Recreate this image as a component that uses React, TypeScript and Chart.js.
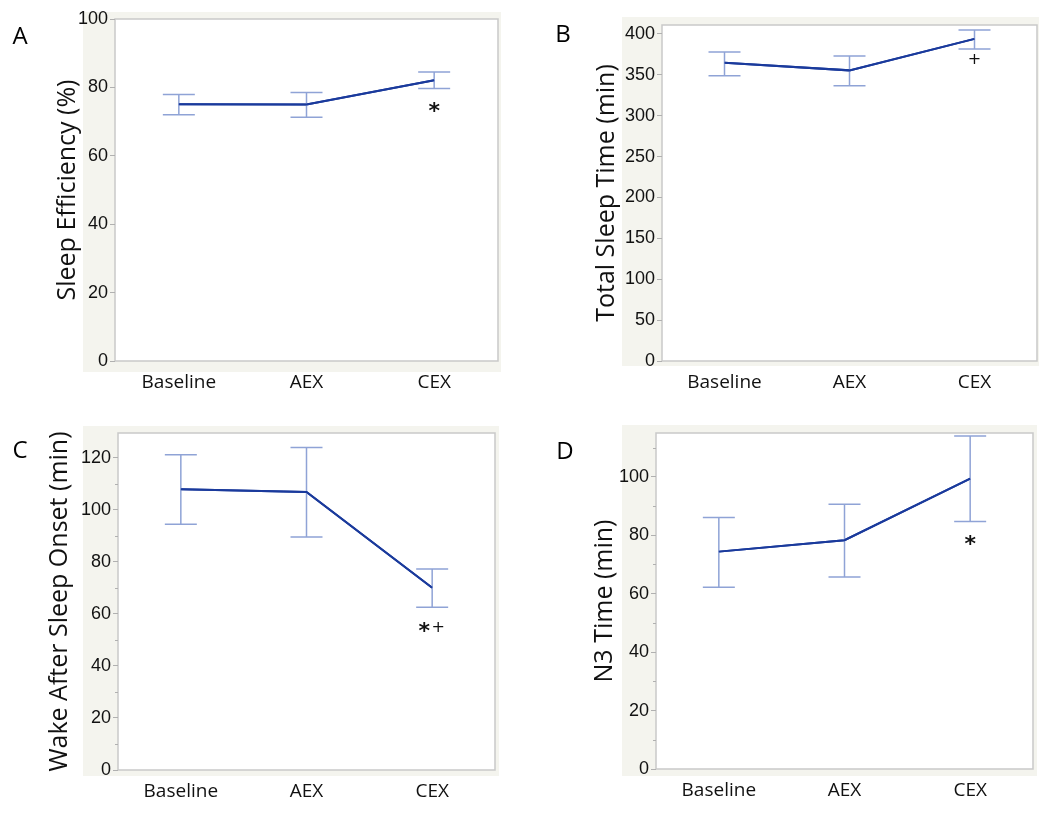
import React, { useEffect, useRef } from "react";
import { Chart, registerables } from "chart.js";

Chart.register(...registerables);

// ---------------- DATA ----------------
const categories = ["Baseline", "AEX", "CEX"];

const sleepEffMean = [75.1, 75.0, 82.1];
const sleepEffUpper = [77.9, 78.5, 84.5];
const sleepEffLower = [72.0, 71.3, 79.7];
const sleepEffMarks = ["", "", "*"];
const sleepEffMarkY = [0, 0, 73.9];

const tstMean = [364.8, 355.5, 394.0];
const tstUpper = [378.0, 373.0, 405.0];
const tstLower = [349.0, 336.6, 381.6];
const tstMarks = ["", "", "+"];
const tstMarkY = [0, 0, 368];

const wasoMean = [108.0, 106.9, 70.1];
const wasoUpper = [121.2, 124.0, 77.3];
const wasoLower = [94.5, 89.6, 62.6];
const wasoMarks = ["", "", "*+"];
const wasoMarkY = [0, 0, 54.6];

const n3Mean = [74.4, 78.3, 99.4];
const n3Upper = [86.1, 90.6, 114.0];
const n3Lower = [62.2, 65.7, 84.7];
const n3Marks = ["", "", "*"];
const n3MarkY = [0, 0, 78.0];

// ---------------- STYLE / LAYOUT ----------------
const LINE_COLOR = "#1a3a9c";
const ERR_COLOR = "#8fa3d6";
const BEIGE = "#f4f4ee";
const FRAME = "#c9c9c9";
const TICK = "#b0b0b0";

type Panel = {
  letter: string;
  title: string;
  mean: number[];
  upper: number[];
  lower: number[];
  marks: string[];
  markY: number[];
  yMax: number;
  step: number;
  minor: number;
  left: number;
  top: number;
  width: number;
  height: number;
  padTop: number;
  padRight: number;
  yAxisW: number;
  xAxisH: number;
  titleX: number;
  beige: [number, number, number, number];
  letterPos: [number, number];
};

const panels: Panel[] = [
  {
    letter: "A", title: "Sleep Efficiency (%)",
    mean: sleepEffMean, upper: sleepEffUpper, lower: sleepEffLower,
    marks: sleepEffMarks, markY: sleepEffMarkY,
    yMax: 100, step: 20, minor: 0,
    left: 0, top: 0, width: 525, height: 405,
    padTop: 19, padRight: 27, yAxisW: 115, xAxisH: 44, titleX: 68,
    beige: [32, 7, 3, 11], letterPos: [20, 37],
  },
  {
    letter: "B", title: "Total Sleep Time (min)",
    mean: tstMean, upper: tstUpper, lower: tstLower,
    marks: tstMarks, markY: tstMarkY,
    yMax: 411, step: 50, minor: 0,
    left: 525, top: 0, width: 525, height: 405,
    padTop: 25, padRight: 13, yAxisW: 137, xAxisH: 44, titleX: 82,
    beige: [40, 8, 2, 5], letterPos: [38, 35],
  },
  {
    letter: "C", title: "Wake After Sleep Onset (min)",
    mean: wasoMean, upper: wasoUpper, lower: wasoLower,
    marks: wasoMarks, markY: wasoMarkY,
    yMax: 129.6, step: 20, minor: 10,
    left: 0, top: 405, width: 525, height: 409,
    padTop: 28, padRight: 30, yAxisW: 118, xAxisH: 44, titleX: 60,
    beige: [35, 7, 4, 6], letterPos: [20, 46],
  },
  {
    letter: "D", title: "N3 Time (min)",
    mean: n3Mean, upper: n3Upper, lower: n3Lower,
    marks: n3Marks, markY: n3MarkY,
    yMax: 115, step: 20, minor: 10,
    left: 525, top: 405, width: 525, height: 409,
    padTop: 28, padRight: 17, yAxisW: 131, xAxisH: 45, titleX: 80,
    beige: [34, 8, 4, 7], letterPos: [40, 47],
  },
];

function PanelChart({ p }: { p: Panel }) {
  const ref = useRef<HTMLCanvasElement | null>(null);
  useEffect(() => {
    if (!ref.current) return;
    const panelPlugin = {
      id: "panelDeco",
      beforeDraw(chart: any) {
        const { ctx, chartArea: a } = chart;
        const [bl, bt, br, bb] = p.beige;
        ctx.save();
        ctx.fillStyle = BEIGE;
        ctx.fillRect(a.left - bl, a.top - bt, a.right - a.left + bl + br, a.bottom - a.top + bt + bb);
        ctx.fillStyle = "#ffffff";
        ctx.fillRect(a.left, a.top, a.right - a.left, a.bottom - a.top);
        ctx.strokeStyle = FRAME;
        ctx.lineWidth = 1.5;
        ctx.strokeRect(a.left, a.top, a.right - a.left, a.bottom - a.top);
        if (p.minor) {
          const ys = chart.scales.y;
          ctx.strokeStyle = TICK;
          ctx.lineWidth = 1;
          for (let v = p.minor; v <= p.yMax; v += p.minor) {
            if (v % p.step === 0) continue;
            const py = Math.round(ys.getPixelForValue(v)) + 0.5;
            ctx.beginPath();
            ctx.moveTo(a.left - 3, py);
            ctx.lineTo(a.left, py);
            ctx.stroke();
          }
        }
        ctx.fillStyle = "#000";
        ctx.font = "24px 'Open Sans'";
        ctx.textAlign = "center";
        ctx.textBaseline = "middle";
        ctx.fillText(p.letter, p.letterPos[0], p.letterPos[1]);
        ctx.restore();
      },
      afterDatasetsDraw(chart: any) {
        const { ctx } = chart;
        const xs = chart.scales.x;
        const ys = chart.scales.y;
        ctx.save();
        ctx.strokeStyle = ERR_COLOR;
        ctx.lineWidth = 1.5;
        for (let i = 0; i < categories.length; i++) {
          const px = xs.getPixelForValue(i);
          const pu = ys.getPixelForValue(p.upper[i]);
          const pl = ys.getPixelForValue(p.lower[i]);
          ctx.beginPath();
          ctx.moveTo(px, pu);
          ctx.lineTo(px, pl);
          ctx.moveTo(px - 16, pu);
          ctx.lineTo(px + 16, pu);
          ctx.moveTo(px - 16, pl);
          ctx.lineTo(px + 16, pl);
          ctx.stroke();
        }
        ctx.restore();
        chart.getDatasetMeta(0).dataset.draw(ctx, chart.chartArea);
        ctx.save();
        ctx.fillStyle = "#111";
        ctx.textAlign = "center";
        ctx.textBaseline = "middle";
        for (let i = 0; i < categories.length; i++) {
          const m = p.marks[i];
          if (!m) continue;
          const px = xs.getPixelForValue(i);
          const py = ys.getPixelForValue(p.markY[i]);
          let x = px - (m.length > 1 ? 8 : 0);
          for (const ch of m) {
            if (ch === "*") {
              ctx.font = "bold 22px 'DejaVu Sans'";
              ctx.fillText("*", x, py + 4);
              x += 14;
            } else {
              ctx.font = "16px 'DejaVu Sans'";
              ctx.fillText("+", x, py);
              x += 14;
            }
          }
        }
        ctx.restore();
      },
    };

    const chart = new Chart(ref.current, {
      type: "line",
      data: {
        labels: categories,
        datasets: [
          {
            data: p.mean,
            borderColor: LINE_COLOR,
            borderWidth: 2,
            pointRadius: 0,
            tension: 0,
            fill: false,
          },
        ],
      },
      options: {
        animation: false,
        responsive: false,
        maintainAspectRatio: false,
        events: [],
        layout: { padding: { top: p.padTop, right: p.padRight, left: 0, bottom: 0 } },
        plugins: { legend: { display: false }, tooltip: { enabled: false } },
        scales: {
          x: {
            type: "category",
            offset: true,
            grid: { display: false, drawTicks: false },
            border: { display: false },
            ticks: {
              padding: 10,
              color: "#111",
              font: { family: "'Open Sans'", size: 19 },
              maxRotation: 0,
            },
            afterFit: (s: any) => {
              s.height = p.xAxisH;
            },
          },
          y: {
            min: 0,
            max: p.yMax,
            border: { display: false },
            grid: {
              drawOnChartArea: false,
              drawTicks: true,
              tickLength: 5,
              tickColor: TICK,
              lineWidth: 1,
            },
            ticks: {
              stepSize: p.step,
              padding: 2,
              color: "#111",
              font: { family: "'Liberation Sans'", size: 18 },
            },
            afterBuildTicks: (s: any) => {
              const t: any[] = [];
              for (let v = 0; v <= p.yMax + 1e-9; v += p.step) t.push({ value: v });
              s.ticks = t;
            },
            title: {
              display: true,
              text: p.title,
              color: "#111",
              font: { family: "'Open Sans'", size: 25 },
              padding: { top: p.titleX - 15, bottom: 0 },
            },
            afterFit: (s: any) => {
              s.width = p.yAxisW;
            },
          },
        },
      },
      plugins: [panelPlugin],
    } as any);
    return () => chart.destroy();
  }, [p]);

  return (
    <canvas
      ref={ref}
      width={p.width}
      height={p.height}
      style={{ position: "absolute", left: p.left, top: p.top, width: p.width, height: p.height }}
    />
  );
}

export default function App() {
  return (
    <div style={{ position: "absolute", left: 0, top: 0, width: 1050, height: 814, background: "#fff" }}>
      {panels.map((p) => (
        <PanelChart key={p.letter} p={p} />
      ))}
    </div>
  );
}
